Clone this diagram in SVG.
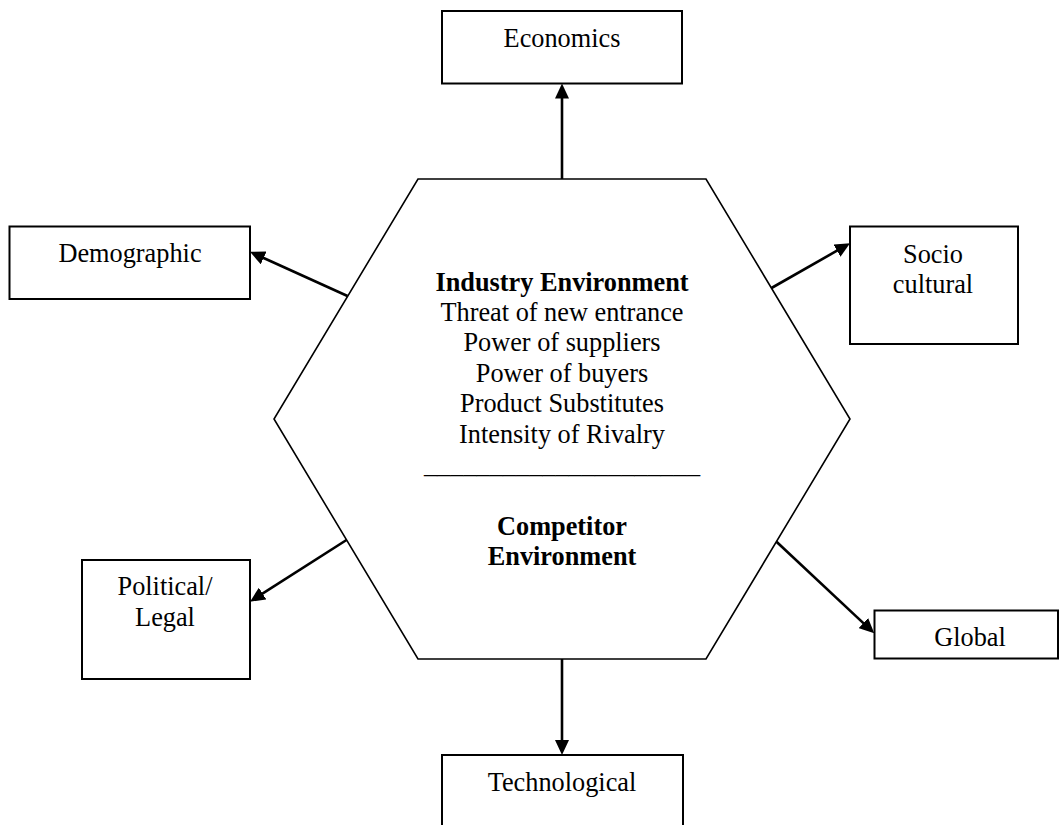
<svg xmlns="http://www.w3.org/2000/svg" width="1059" height="825" viewBox="0 0 1059 825">
<style>
.box{fill:#fff;stroke:#000;stroke-width:2}
.hex{fill:#fff;stroke:#000;stroke-width:1.6}
.t{font-family:"Liberation Serif","Times New Roman",serif;font-size:26.3px;fill:#000;text-anchor:middle}
.b{font-weight:bold}
.arr{stroke:#000;stroke-width:2.6;fill:none;marker-end:url(#ah)}
</style>
<defs>
<marker id="ah" viewBox="0 0 15 14" refX="3" refY="7" markerWidth="15" markerHeight="14" markerUnits="userSpaceOnUse" orient="auto">
<path d="M0,0 L15,7 L0,14 z" fill="#000"/>
</marker>
</defs>
<rect width="1059" height="825" fill="#fff"/>
<g id="center">
<polygon class="hex" points="418,179 706,179 850,419 706,659 418,659 274,419"/>
<text class="t b" x="562" y="291">Industry Environment</text>
<text class="t" x="562" y="321">Threat of new entrance</text>
<text class="t" x="562" y="351">Power of suppliers</text>
<text class="t" x="562" y="381.5">Power of buyers</text>
<text class="t" x="562" y="412">Product Substitutes</text>
<text class="t" x="562" y="442.5">Intensity of Rivalry</text>
<text class="t" x="562" y="473">_____________________</text>
<text class="t b" x="562" y="535">Competitor</text>
<text class="t b" x="562" y="565">Environment</text>
</g>
<g id="economics">
<rect class="box" x="442" y="11" width="240" height="72.5"/>
<text class="t" x="562" y="47">Economics</text>
</g>
<g id="demographic">
<rect class="box" x="9.5" y="226.5" width="240.5" height="72.5"/>
<text class="t" x="130" y="262">Demographic</text>
</g>
<g id="sociocultural">
<rect class="box" x="850" y="226.5" width="168" height="117.5"/>
<text class="t" x="933" y="263">Socio</text>
<text class="t" x="933" y="293">cultural</text>
</g>
<g id="political">
<rect class="box" x="82" y="560" width="168" height="119"/>
<text class="t" x="165" y="595">Political/</text>
<text class="t" x="165" y="626">Legal</text>
</g>
<g id="global">
<rect class="box" x="874.5" y="610.5" width="183.5" height="48"/>
<text class="t" x="970" y="646">Global</text>
</g>
<g id="technological">
<rect class="box" x="442" y="755" width="241" height="90"/>
<text class="t" x="562" y="791">Technological</text>
</g>
<g id="connectors">
<line class="arr" x1="562" y1="179" x2="562" y2="95.5"/>
<line class="arr" x1="347.5" y1="296" x2="260.9" y2="256.7"/>
<line class="arr" x1="771.5" y1="288" x2="839.6" y2="249.2"/>
<line class="arr" x1="346.5" y1="540" x2="260.1" y2="595.2"/>
<line class="arr" x1="776.5" y1="541.7" x2="865.5" y2="625.1"/>
<line class="arr" x1="562" y1="659" x2="562" y2="743"/>
</g>
</svg>
